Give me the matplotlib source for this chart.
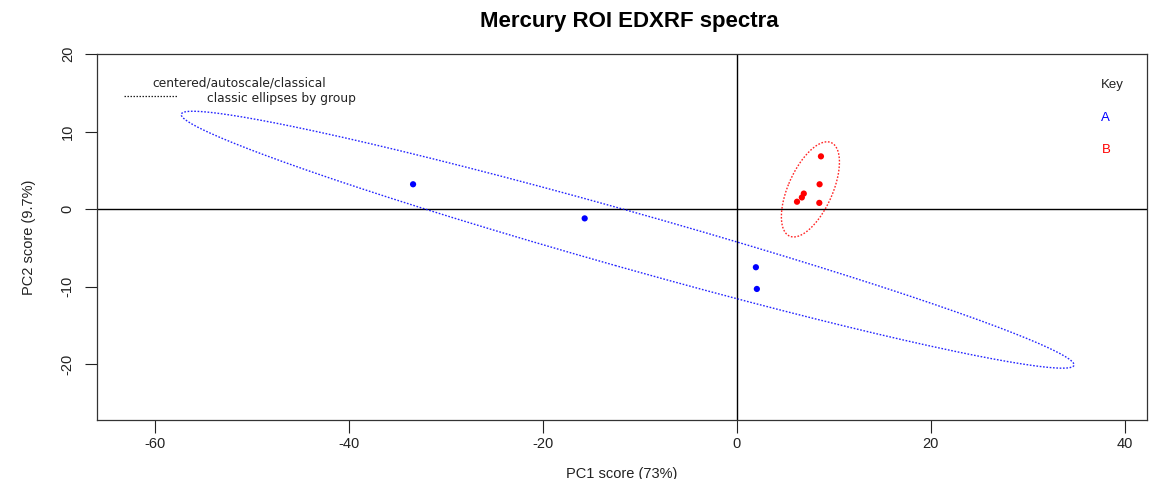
import numpy as np
import matplotlib
matplotlib.use("Agg")
import matplotlib.pyplot as plt

plt.rcParams['font.family'] = ['Liberation Sans', 'DejaVu Sans']
plt.rcParams['axes.unicode_minus'] = False

# PCA scores by group
groups = ["A", "B"]
group_colors = ["#0000FF", "#FF0000"]
pc1_a = [-33.4, -15.7, 1.96, 2.06]
pc2_a = [3.2, -1.2, -7.5, -10.3]
pc1_b = [8.67, 8.53, 6.9, 6.7, 6.2, 8.5]
pc2_b = [6.8, 3.2, 2.0, 1.5, 0.95, 0.8]

x_ticks = [-60, -40, -20, 0, 20, 40]
y_ticks = [-20, -10, 0, 10, 20]

title = "Mercury ROI EDXRF spectra"
xlabel = "PC1 score (73%)"
ylabel = "PC2 score (9.7%)"
legend_title = "centered/autoscale/classical"
legend_entry = "classic ellipses by group"

# chi-square (2 df, 97.5%) radius for the classical ellipses
ellipse_k = np.sqrt(7.378)


def classic_ellipse(x, y, k, n=400):
    pts = np.column_stack([x, y])
    mu = pts.mean(axis=0)
    cov = np.cov(pts, rowvar=False)
    vals, vecs = np.linalg.eigh(cov)
    t = np.linspace(0, 2 * np.pi, n)
    circ = np.column_stack([np.cos(t), np.sin(t)])
    e = circ @ (vecs * np.sqrt(vals) * k).T + mu
    return e[:, 0], e[:, 1]


fig = plt.figure(figsize=(11.5, 4.79), dpi=100)
ax = fig.add_axes([97 / 1150, 1 - 420 / 479, (1147 - 97) / 1150, (420 - 54) / 479])
ax.set_xlim(-66.0, 42.3)
ax.set_ylim(-27.2, 20.0)

ax.axhline(0, color="black", lw=1.0, zorder=1)
ax.axvline(0, color="black", lw=1.0, zorder=1)

for (xs, ys), col in zip([(pc1_a, pc2_a), (pc1_b, pc2_b)], group_colors):
    ex, ey = classic_ellipse(xs, ys, ellipse_k)
    ax.plot(ex, ey, color=col, lw=1.0, linestyle=(0, (1.2, 1.2)), alpha=0.85, zorder=2)
    ax.scatter(xs, ys, s=20, color=col, edgecolors="none", zorder=3)

ax.set_xticks(x_ticks)
ax.set_yticks(y_ticks)
ax.tick_params(direction="out", length=9, width=0.8, labelsize=10.5,
               colors="#222222")
ax.tick_params(axis="x", pad=3)
ax.tick_params(axis="y", pad=7)
for lab in ax.get_yticklabels():
    lab.set_rotation(90)
    lab.set_va("center")
for sp in ax.spines.values():
    sp.set_linewidth(0.9)
    sp.set_color("#333333")

ax.set_xlabel(xlabel, fontsize=10.5, labelpad=12, color="#222222")
ax.set_ylabel(ylabel, fontsize=10.5, labelpad=18, color="#222222")
fig.text(629 / 1150, 1 - 21 / 479, title, ha="center", va="center",
         fontsize=16, fontweight="bold")

# legend block (top left)
legend_font = dict(fontsize=8.8, family=["DejaVu Sans"], color="#222222")
ax.text(-60.3, 16.2, legend_title, va="center", ha="left", **legend_font)
ax.plot([-63.2, -57.8], [14.6, 14.6], color="#222222", lw=0.9,
        linestyle=(0, (1.2, 1.2)), zorder=2)
ax.text(-54.7, 14.3, legend_entry, va="center", ha="left", **legend_font)

# key (top right)
ax.text(37.5, 16.0, "Key", fontsize=9.5, va="center", ha="left", color="#222222")
for i, (g, col) in enumerate(zip(groups, group_colors)):
    ax.text(37.6, 11.7 - 4.1 * i, g, fontsize=9.5, va="center", ha="left", color=col)

fig.savefig("out.png", dpi=100)
